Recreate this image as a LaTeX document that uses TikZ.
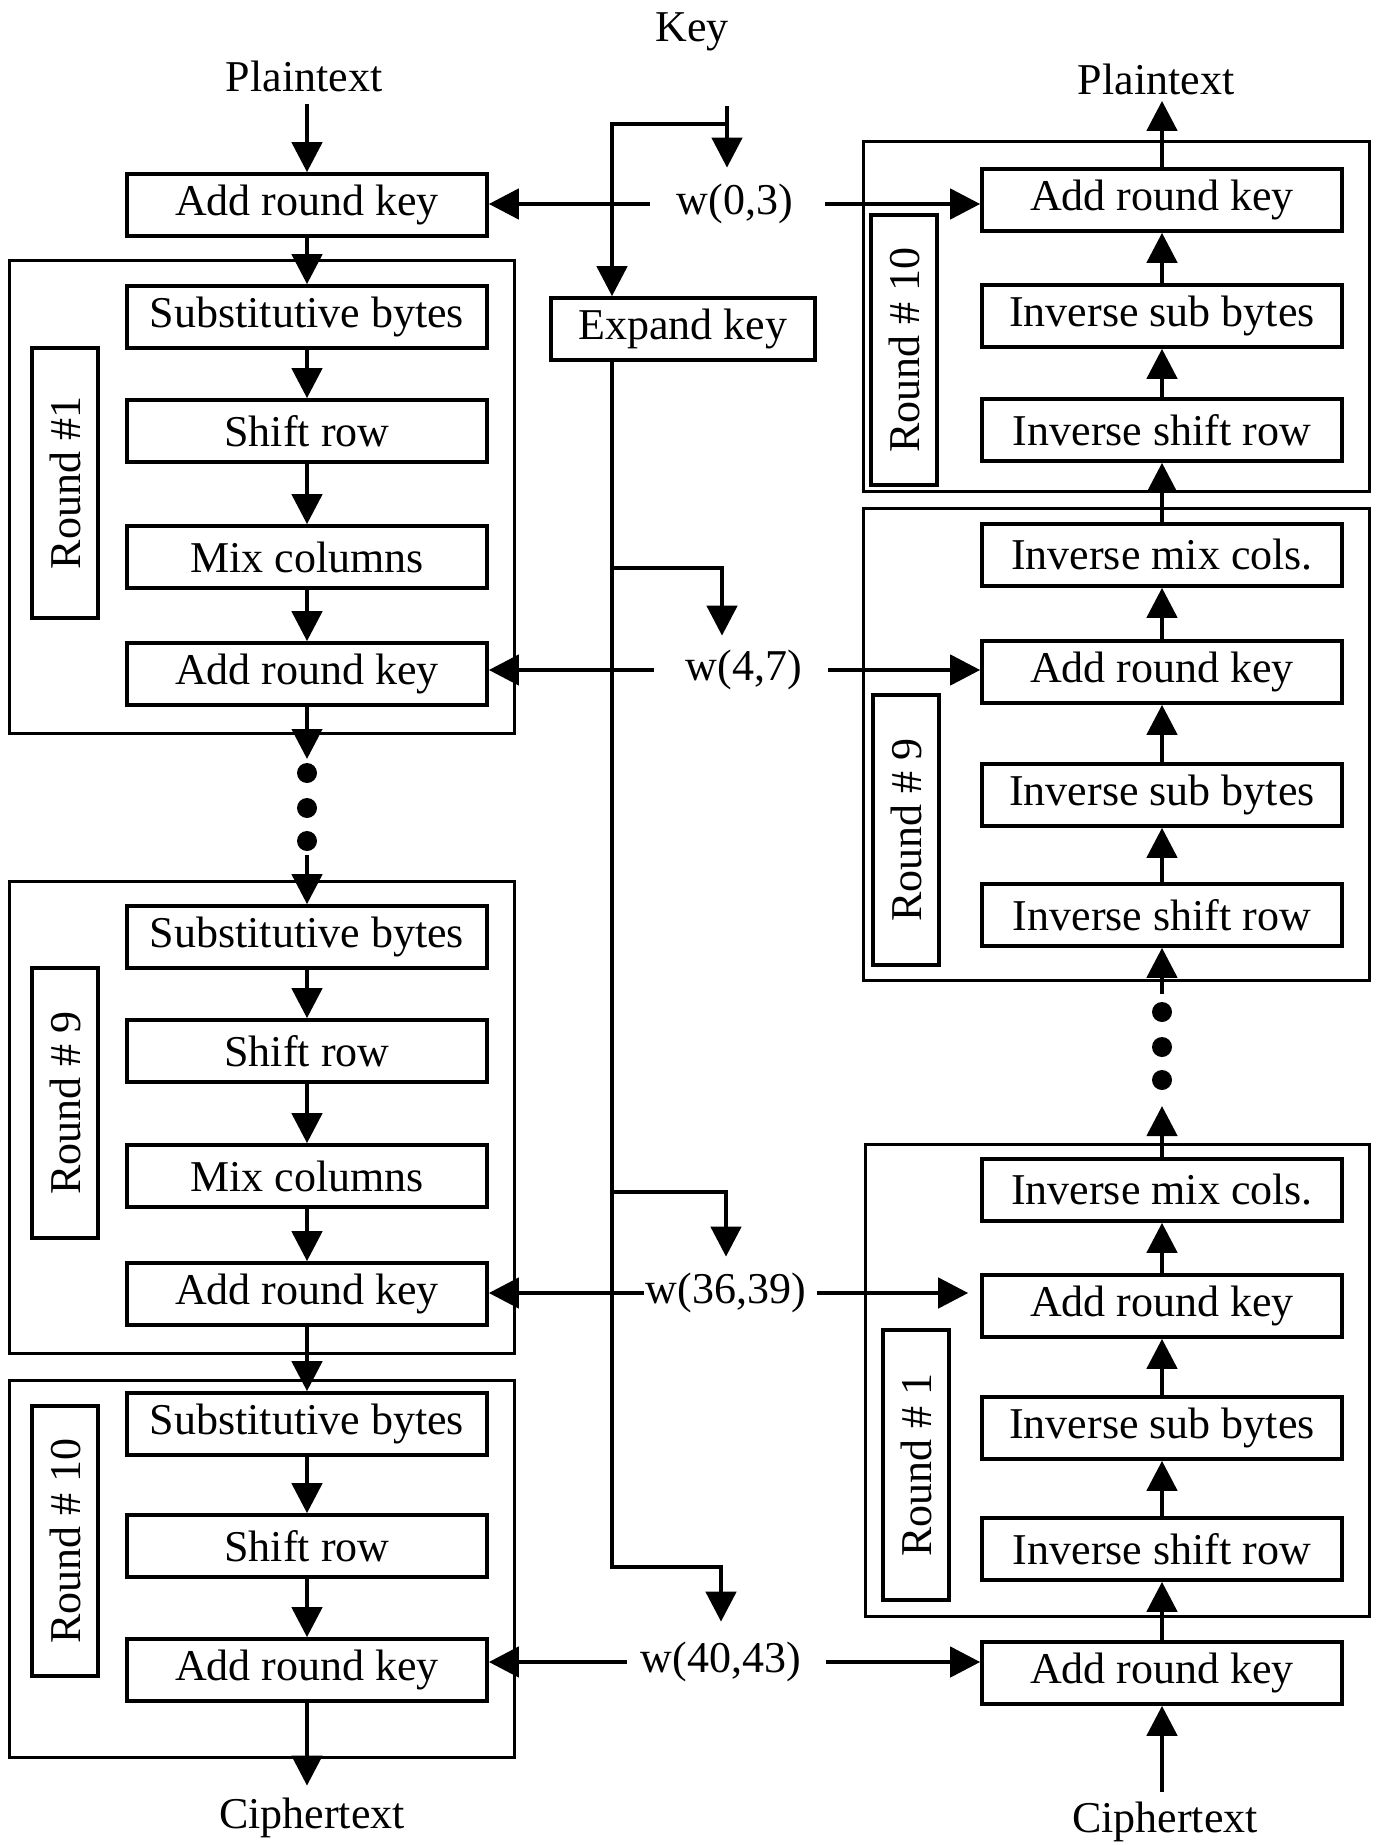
\documentclass[tikz,border=0pt]{standalone}
\usepackage{fontspec}
\setmainfont{Liberation Serif}
\usetikzlibrary{arrows.meta}
\begin{document}
\begin{tikzpicture}[x=0.5pt,y=-0.5pt,
  font=\fontsize{22pt}{26pt}\selectfont,
  box/.style={draw,line width=1.8pt,minimum width=180pt,minimum height=31pt,inner sep=0pt},
  lab/.style={draw,line width=1.6pt,rotate=90,minimum width=135pt,minimum height=33pt,inner sep=0pt},
  frame/.style={draw,line width=1.5pt},
  arr/.style={line width=2.3pt,-{Triangle[length=15pt,width=15pt]}},
  conn/.style={line width=2.3pt},
  dotn/.style={circle,fill=black,minimum size=10pt,inner sep=0pt},
  txt/.style={inner sep=0pt}]
\useasboundingbox (0,0) rectangle (1378,1845);

% frames
\draw[frame] (9,261) rectangle (514,733);
\draw[frame] (9,881) rectangle (514,1353);
\draw[frame] (9,1380) rectangle (514,1757);
\draw[frame] (863,142) rectangle (1369,491);
\draw[frame] (863,508) rectangle (1369,980);
\draw[frame] (865,1144) rectangle (1369,1616);

% left column
\node[box] (L0) at (307,205) {Add round key};
\node[box] (L1s) at (307,317) {Substitutive bytes};
\node[box] (L1r) at (307,431) {Shift row};
\node[box] (L1m) at (307,557) {Mix columns};
\node[box] (L1a) at (307,674) {Add round key};
\node[box] (L9s) at (307,937) {Substitutive bytes};
\node[box] (L9r) at (307,1051) {Shift row};
\node[box] (L9m) at (307,1176) {Mix columns};
\node[box] (L9a) at (307,1294) {Add round key};
\node[box] (L10s) at (307,1424) {Substitutive bytes};
\node[box] (L10r) at (307,1546) {Shift row};
\node[box] (L10a) at (307,1670) {Add round key};
\node[lab] (LR1) at (65,483) {Round \#1};
\node[lab] (LR9) at (65,1103) {Round \# 9};
\node[lab] (LR10) at (65,1541) {Round \# 10};

% right column
\node[box] (R10a) at (1162,200) {Add round key};
\node[box] (R10s) at (1162,316) {Inverse sub bytes};
\node[box] (R10r) at (1162,430) {Inverse shift row};
\node[box] (R9m) at (1162,555) {Inverse mix cols.};
\node[box] (R9a) at (1162,672) {Add round key};
\node[box] (R9s) at (1162,795) {Inverse sub bytes};
\node[box] (R9r) at (1162,915) {Inverse shift row};
\node[box] (R1m) at (1162,1190) {Inverse mix cols.};
\node[box] (R1a) at (1162,1306) {Add round key};
\node[box] (R1s) at (1162,1428) {Inverse sub bytes};
\node[box] (R1r) at (1162,1549) {Inverse shift row};
\node[box] (R0a) at (1162,1673) {Add round key};
\node[lab] (RR10) at (904,350) {Round \# 10};
\node[lab] (RR9) at (906,830) {Round \# 9};
\node[lab] (RR1) at (916,1465) {Round \# 1};

% middle
\node[box,minimum width=132pt] (ek) at (683,329) {Expand key};
\node[txt] (key) at (692,32) {Key};
\node[txt] (ptL) at (304,76) {Plaintext};
\node[txt] (ptR) at (1156,79) {Plaintext};
\node[txt] (ctL) at (312,1818) {Ciphertext};
\node[txt] (ctR) at (1165,1822) {Ciphertext};
\node[txt] (w03) at (735,204) {w(0,3)};
\node[txt] (w47) at (744,670) {w(4,7)};
\node[txt] (w3639) at (726,1293) {w(36,39)};
\node[txt] (w4043) at (721,1662) {w(40,43)};

% dots
\node[dotn] (dl1) at (307,773) {};
\node[dotn] (dl2) at (307,808) {};
\node[dotn] (dl3) at (307,841) {};
\node[dotn] (dr1) at (1162,1012) {};
\node[dotn] (dr2) at (1162,1047) {};
\node[dotn] (dr3) at (1162,1080) {};

\coordinate (cL1) at (307,759);
\coordinate (cL2) at (307,855);
\coordinate (cR1) at (1162,1106);
\coordinate (cR2) at (1162,994);
\coordinate (k0) at (727,106);
\coordinate (kb) at (612,124);
\coordinate (b1) at (612,568);
\coordinate (b2) at (612,1192);
\coordinate (b4) at (612,1567);

% left chain
\draw[arr] ([yshift=-6pt]L0.north |- ptL.south) -- (L0.north);
\draw[arr] (L0) -- (L1s);
\draw[arr] (L1s) -- (L1r);
\draw[arr] (L1r) -- (L1m);
\draw[arr] (L1m) -- (L1a);
\draw[arr] (L1a) -- (cL1);
\draw[arr] (cL2) -- (L9s.north);
\draw[arr] (L9s) -- (L9r);
\draw[arr] (L9r) -- (L9m);
\draw[arr] (L9m) -- (L9a);
\draw[arr] (L9a) -- (L10s);
\draw[arr] (L10s) -- (L10r);
\draw[arr] (L10r) -- (L10a);
\draw[arr,shorten >=6pt] (L10a.south) -- (L10a.south |- ctL.north);

% right chain
\draw[arr] ([yshift=5pt]R0a.south |- ctR.north) -- (R0a.south);
\draw[arr] (R0a) -- (R1r);
\draw[arr] (R1r) -- (R1s);
\draw[arr] (R1s) -- (R1a);
\draw[arr] (R1a) -- (R1m);
\draw[arr] (R1m) -- (cR1);
\draw[arr] (cR2) -- (R9r.south);
\draw[arr] (R9r) -- (R9s);
\draw[arr] (R9s) -- (R9a);
\draw[arr] (R9a) -- (R9m);
\draw[arr] (R9m) -- (R10r);
\draw[arr] (R10r) -- (R10s);
\draw[arr] (R10s) -- (R10a);
\draw[arr,shorten >=3pt] (R10a.north) -- (R10a.north |- ptR.south);

% key lines
\draw[arr,shorten >=8pt] (k0) -- (k0 |- w03.north);
\draw[arr] (k0 |- kb) -- (kb) -- (kb |- ek.north);
\draw[arr,shorten >=10pt] (kb |- ek.south) -- (b4) -| (w4043.north);
\draw[arr,shorten >=7pt] (b1) -| ([xshift=-11pt]w47.north);
\draw[arr,shorten >=8pt] (b2) -| (w3639.north);

% round keys
\draw[arr] ([xshift=-13.5pt]w03.west) -- (w03.west -| L0.east);
\draw[arr] ([xshift=16pt]w03.east) -- (w03.east -| R10a.west);
\draw[arr] ([xshift=-16pt]w47.west) -- (w47.west -| L1a.east);
\draw[arr] ([xshift=13pt]w47.east) -- (w47.east -| R9a.west);
\draw[arr] ([xshift=-1pt]w3639.west) -- (w3639.west -| L9a.east);
\draw[arr] ([xshift=5.5pt]w3639.east) -- ([xshift=-6pt]w3639.east -| R1a.west);
\draw[arr] ([xshift=-7pt]w4043.west) -- (w4043.west -| L10a.east);
\draw[arr] ([xshift=12.5pt]w4043.east) -- (w4043.east -| R0a.west);
\end{tikzpicture}
\end{document}
